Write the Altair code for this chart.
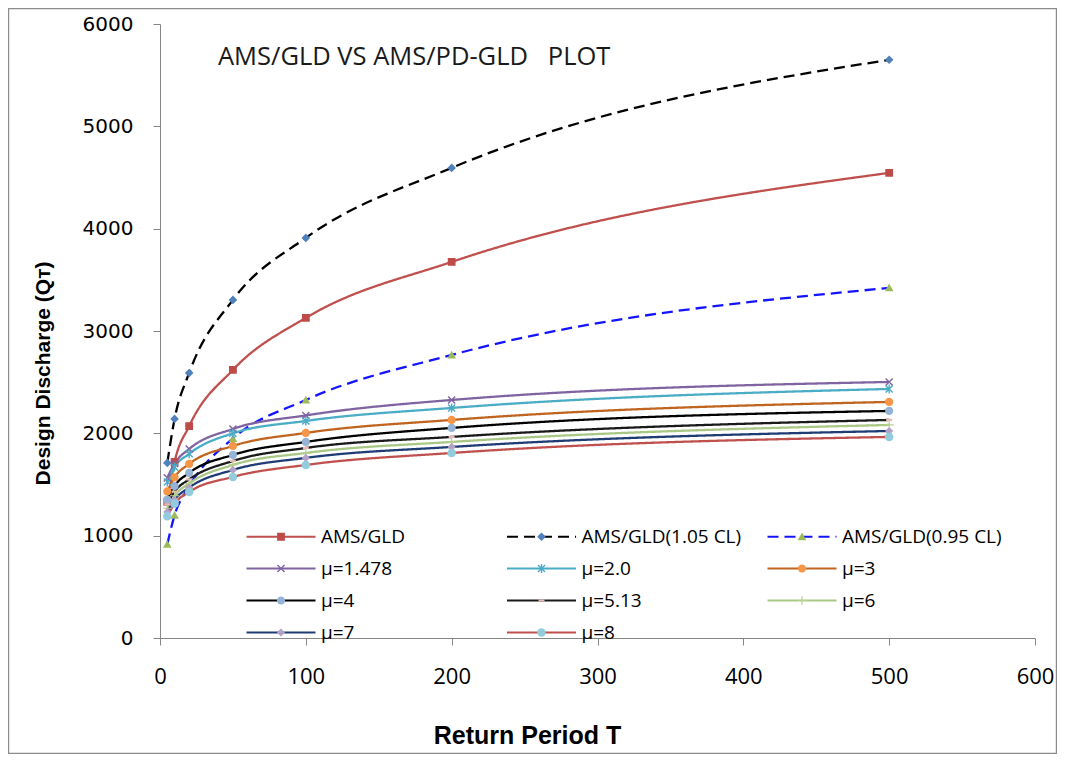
import altair as alt
import pandas as pd
import math

# ---------------- data ----------------
T_VALUES = [5, 10, 20, 50, 100, 200, 500]

AMS_GLD     = [1330, 1720, 2070, 2620, 3128, 3675, 4545]
AMS_GLD_105 = [1711, 2141, 2590, 3304, 3910, 4594, 5650]
AMS_GLD_095 = [915, 1200, 1480, 1950, 2326, 2766, 3421]
MU_1478 = [1565, 1705, 1847, 2043, 2175, 2326, 2502]
MU_20   = [1525, 1670, 1800, 2000, 2121, 2248, 2434]
MU_3    = [1432, 1570, 1701, 1877, 2004, 2131, 2307]
MU_4    = [1352, 1485, 1613, 1789, 1916, 2053, 2219]
MU_513  = [1305, 1430, 1550, 1730, 1857, 1965, 2131]
MU_6    = [1268, 1390, 1510, 1691, 1808, 1916, 2082]
MU_7    = [1232, 1350, 1470, 1642, 1760, 1867, 2023]
MU_8    = [1190, 1313, 1427, 1574, 1691, 1808, 1965]

SERIES_NAMES = ["AMS/GLD", "AMS/GLD(1.05 CL)", "AMS/GLD(0.95 CL)",
                "μ=1.478", "μ=2.0", "μ=3",
                "μ=4", "μ=5.13", "μ=6",
                "μ=7", "μ=8"]
SERIES_VALUES = [AMS_GLD, AMS_GLD_105, AMS_GLD_095, MU_1478, MU_20, MU_3,
                 MU_4, MU_513, MU_6, MU_7, MU_8]

X_TICKS = [0, 100, 200, 300, 400, 500, 600]
Y_TICKS = [0, 1000, 2000, 3000, 4000, 5000, 6000]

TITLE = "AMS/GLD VS AMS/PD-GLD\u00a0\u00a0\u00a0PLOT"
X_TITLE = "Return Period T"
Y_TITLE = "Design Discharge (Q\u1d1b)"

# ---------------- styles ----------------
LINE_COLORS = ["#C0504D", "#000000", "#1414FF", "#8064A2", "#4BACC6", "#C0651F",
               "#000000", "#1A1A1A", "#A9C785", "#1F3C74", "#C0504D"]
MARKER_COLORS = ["#BE4B48", "#4F81BD", "#9BBB59", "#8064A2", "#4BACC6", "#F79646",
                 "#95B3D7", "#E6B9B8", "#B9D08F", "#B3A2C7", "#93CDDD"]
DASHES = [[1, 0], [11, 6], [11, 6], [1, 0], [1, 0], [1, 0],
          [1, 0], [1, 0], [1, 0], [1, 0], [1, 0]]

SYM_LEN = 69                   # legend line length in px
SYM = SYM_LEN * SYM_LEN        # symbol "size" (area)
UNIT = SYM_LEN / 2.0           # px per path unit


def u(px):
    return px / UNIT


def f(v):
    return f"{v:.4f}"


EXT = "M-1,0L-1,0M1,0L1,0"


def bar(length_px, thick_px, angle_deg):
    a = math.radians(angle_deg)
    hl, ht = u(length_px) / 2, u(thick_px) / 2
    pts = [(-hl, -ht), (hl, -ht), (hl, ht), (-hl, ht)]
    out = []
    for (x, y) in pts:
        xr = x * math.cos(a) - y * math.sin(a)
        yr = x * math.sin(a) + y * math.cos(a)
        out.append((xr, yr))
    return "M" + "L".join(f"{f(x)},{f(y)}" for x, y in out) + "Z"


def square(h):
    a = u(h)
    return f"M{f(-a)},{f(-a)}H{f(a)}V{f(a)}H{f(-a)}Z"


def diamond(h):
    a = u(h)
    return f"M0,{f(-a)}L{f(a)},0L0,{f(a)}L{f(-a)},0Z"


def triangle(h):
    a = u(h)
    return f"M0,{f(-a)}L{f(a)},{f(a * 0.8)}L{f(-a)},{f(a * 0.8)}Z"


def circle(r):
    a = u(r)
    return f"M{f(a)},0A{f(a)},{f(a)} 0 1,1 {f(-a)},0A{f(a)},{f(a)} 0 1,1 {f(a)},0Z"


XMARK = bar(10, 1.4, 45) + bar(10, 1.4, -45)
STAR = XMARK + bar(9, 1.4, 90)
PLUS = bar(9, 1.2, 0) + bar(9, 1.2, 90)
DASH = bar(6, 2.2, 0)

SHAPES = [square(3.9), diamond(4.3), triangle(4.3), XMARK, STAR, circle(4.1),
          circle(4.1), DASH, PLUS, diamond(4.1), circle(4.3)]
SHAPES = [s + EXT for s in SHAPES]

M_NAMES = ["~" + n for n in SERIES_NAMES]

rows = []
for name, vals in zip(SERIES_NAMES, SERIES_VALUES):
    for t, q in zip(T_VALUES, vals):
        rows.append({"series": name, "mseries": "~" + name, "T": t, "Q": q})
df = pd.DataFrame(rows)

# ---------------- layout ----------------
PW, PH = 875, 614
PAD = {"left": 152, "top": 16, "right": 22, "bottom": 116}

LEG_X, LEG_Y = 85, 503
LABEL_FONT = "Open Sans"

common_leg = dict(orient="none", legendX=LEG_X, legendY=LEG_Y, columns=3,
                  direction="horizontal",
                  title=None, symbolSize=SYM, symbolStrokeWidth=2.2,
                  clipHeight=19,
                  labelFont=LABEL_FONT, labelFontSize=19, labelOffset=4,
                  columnPadding=24.5, rowPadding=12, gridAlign="all", padding=0,
                  labelLimit=400, labelBaseline="middle")

line_legend = alt.Legend(symbolType="stroke", labelColor="black", **common_leg)
marker_legend = alt.Legend(labelOpacity=0, labelColor="black",
                           symbolStrokeColor="transparent", symbolOpacity=1,
                           labelExpr="slice(datum.label, 1)", **common_leg)

x_enc = alt.X("T:Q", scale=alt.Scale(domain=[0, 600], nice=False),
              axis=alt.Axis(values=X_TICKS, title=X_TITLE, grid=False,
                            labelFont=LABEL_FONT, labelFontSize=22,
                            labelBaseline="alphabetic", labelPadding=38,
                            labelFlush=False, labelColor="black",
                            tickSize=7, tickColor="#868686",
                            domainColor="#868686",
                            titleX=367, titleY=105, titleBaseline="alphabetic",
                            titleFont="Liberation Sans", titleFontSize=25,
                            titleFontWeight="bold", titleColor="black"))
y_enc = alt.Y("Q:Q", scale=alt.Scale(domain=[0, 6000], nice=False),
              axis=alt.Axis(values=Y_TICKS, format="d", title=Y_TITLE, grid=False,
                            labelFont="DejaVu Sans", labelFontSize=20,
                            labelPadding=20, labelFlush=False, labelColor="black",
                            tickSize=7, tickColor="#868686",
                            domainColor="#868686",
                            titleX=-111, titleY=349, titleAngle=270,
                            titleBaseline="alphabetic", titleAlign="center",
                            titleFont="Liberation Sans", titleFontSize=21,
                            titleFontWeight="bold", titleColor="black"))

lines = alt.Chart(df).mark_line(interpolate="monotone", strokeWidth=2.3).encode(
    x=x_enc, y=y_enc,
    stroke=alt.Stroke("series:N", scale=alt.Scale(domain=SERIES_NAMES, range=LINE_COLORS),
                      legend=line_legend),
    strokeDash=alt.StrokeDash("series:N", scale=alt.Scale(domain=SERIES_NAMES, range=DASHES),
                              legend=line_legend),
)

points = alt.Chart(df).mark_point(filled=True, size=SYM, opacity=1, strokeWidth=0).encode(
    x="T:Q", y="Q:Q",
    fill=alt.Fill("mseries:N", scale=alt.Scale(domain=M_NAMES, range=MARKER_COLORS),
                  legend=marker_legend),
    shape=alt.Shape("mseries:N", scale=alt.Scale(domain=M_NAMES, range=SHAPES),
                    legend=marker_legend),
)

border = alt.Chart(alt.Data(values=[{"a": 1}])).mark_rect(
    fillOpacity=0, stroke="#8C8C8C", strokeWidth=1.2
).encode(
    x=alt.value(-PAD["left"] + 0.6), x2=alt.value(PW + PAD["right"] - 0.6),
    y=alt.value(-PAD["top"] + 0.6), y2=alt.value(PH + PAD["bottom"] - 0.6),
)

title = alt.Chart(alt.Data(values=[{"t": TITLE}])).mark_text(
    font=LABEL_FONT, fontSize=25.5, align="left", baseline="alphabetic", color="#1A1A1A"
).encode(x=alt.value(58), y=alt.value(41), text="t:N")

chart = alt.layer(border, lines, points, title).properties(
    width=PW, height=PH,
    autosize=alt.AutoSizeParams(type="none"),
    padding=PAD,
    background="white",
).configure_view(stroke=None)

chart.save("out.html", embed_options={"renderer": "svg", "actions": False})
